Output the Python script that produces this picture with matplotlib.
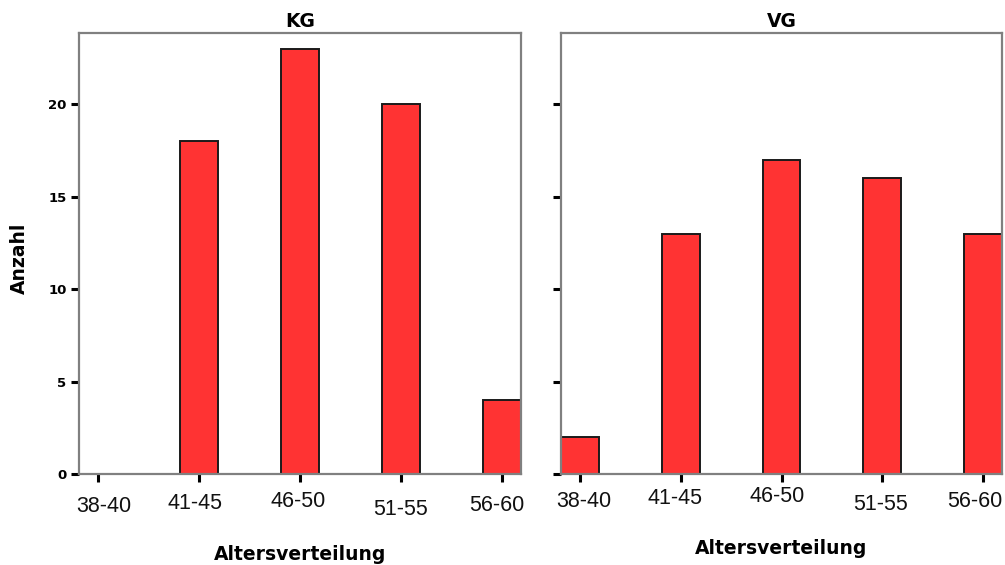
import numpy as np
import matplotlib.pyplot as plt
from matplotlib.transforms import ScaledTranslation

# age groups and counts per group
groups = ["38-40", "41-45", "46-50", "51-55", "56-60"]
kg_counts = [0, 18, 23, 20, 4]
vg_counts = [2, 13, 17, 16, 13]
panels = [("KG", kg_counts), ("VG", vg_counts)]

plt.rcParams['font.family'] = ['Liberation Sans', 'DejaVu Sans']
bold = dict(family='DejaVu Sans', fontweight='bold', fontsize=13.5)

fig = plt.figure(figsize=(10.05, 5.65), dpi=100)
W, H = 1005, 565
boxes = [(79, 33, 442, 441), (561, 33, 441, 441)]
# the old renderer left the category labels slightly uneven (pixel shifts)
label_dx = [(6, -4, -2, 0, -5), (4, -6, -4, -2, -8)]
label_drop = [(38, 35, 33, 41, 37), (33, 30, 28, 36, 33)]
xlabel_y = [554, 549]

x = np.arange(len(groups))
for i, ((title, counts), (l, t, w, h)) in enumerate(zip(panels, boxes)):
    ax = fig.add_axes([l / W, 1 - (t + h) / H, w / W, h / H])
    ax.bar(x, counts, width=0.377, color='#ff3333', edgecolor='#1a1a1a',
           linewidth=1.4, zorder=1)
    ax.set_xlim(-0.19, 4.19)
    ax.set_ylim(0, 23.85)
    ax.set_yticks([0, 5, 10, 15, 20])
    ax.set_xticks(x)
    ax.set_xticklabels([])
    for s in ax.spines.values():
        s.set_color('#808080')
        s.set_linewidth(1.6)
    ax.tick_params(axis='both', direction='out', length=5.5, width=2.2, color='black')
    ax.tick_params(axis='y', pad=3.5)
    if i == 1:
        ax.set_yticklabels([])
    else:
        for lab in ax.get_yticklabels():
            lab.set_family('DejaVu Sans')
            lab.set_fontweight('bold')
            lab.set_fontsize(9.5)
        fig.text(19 / W, 1 - 258 / H, "Anzahl", rotation=90,
                 ha='center', va='center', **bold)

    for xi, name, dx, dy in zip(x, groups, label_dx[i], label_drop[i]):
        off = ScaledTranslation(dx / 100, -dy / 100, fig.dpi_scale_trans)
        ax.text(xi, 0, name, transform=ax.get_xaxis_transform() + off,
                ha='center', va='baseline', fontsize=15.5, color='#111111')

    ax.set_title(title, pad=4.3, **bold)
    fig.text((l + w / 2) / W, 1 - xlabel_y[i] / H, "Altersverteilung",
             ha='center', va='center', **bold)

fig.savefig("out.png", dpi=100)
